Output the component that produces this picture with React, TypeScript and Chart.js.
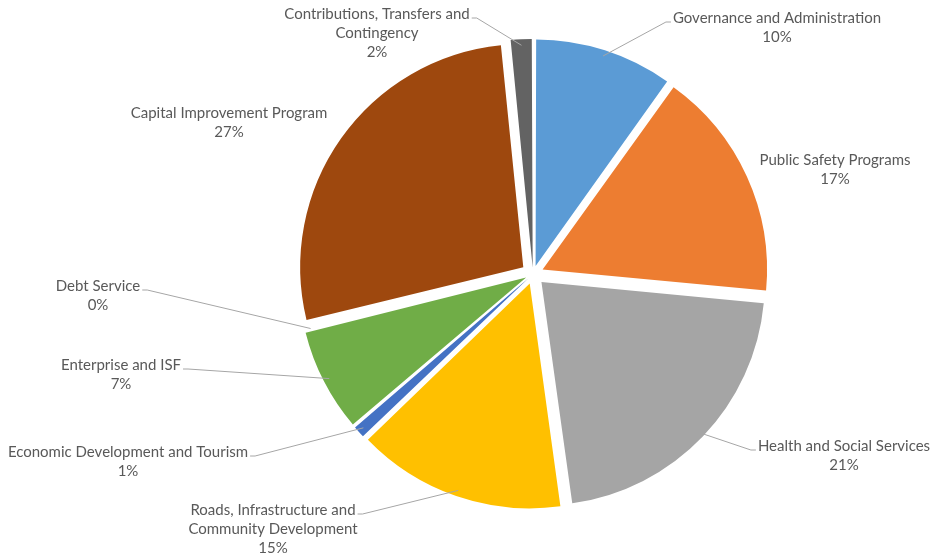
import React, { useEffect, useRef } from "react";
import { Chart, registerables } from "chart.js";

Chart.register(...registerables);

// ---------- data ----------
const categories = [
  "Governance and Administration",
  "Public Safety Programs",
  "Health and Social Services",
  "Roads, Infrastructure and Community Development",
  "Economic Development and Tourism",
  "Enterprise and ISF",
  "Debt Service",
  "Capital Improvement Program",
  "Contributions, Transfers and Contingency",
];
const shares = [9.9, 16.6, 21.3, 15.0, 0.95, 7.4, 0.05, 27.2, 1.6];
const labelLines = [
  ["Governance and Administration"],
  ["Public Safety Programs"],
  ["Health and Social Services"],
  ["Roads, Infrastructure and", "Community Development"],
  ["Economic Development and Tourism"],
  ["Enterprise and ISF"],
  ["Debt Service"],
  ["Capital Improvement Program"],
  ["Contributions, Transfers and", "Contingency"],
];

// ---------- style ----------
const sliceColors = [
  "#5B9BD5",
  "#ED7D31",
  "#A5A5A5",
  "#FFC000",
  "#4472C4",
  "#70AD47",
  "#264478",
  "#9E480E",
  "#636363",
];
// label box placement: centre x, centre y of first line, leader line or not
const labelPlacement = [
  { x: 777, y: 18, leader: true },
  { x: 835, y: 160, leader: false },
  { x: 844, y: 446, leader: true },
  { x: 273, y: 510, leader: true },
  { x: 128, y: 452, leader: true },
  { x: 121, y: 365, leader: true },
  { x: 98, y: 286, leader: true },
  { x: 229, y: 113, leader: false },
  { x: 377, y: 14, leader: true },
];
const EXPLODE = 12;
const RADIUS = 223;
const FONT = "15px Lato";
const LINE_H = 19;
const TEXT_COLOR = "#595959";
const LEADER_COLOR = "#A6A6A6";

const total = shares.reduce((a, b) => a + b, 0);

const labelPlugin = {
  id: "excelLabels",
  afterDatasetsDraw(chart: any) {
    const ctx = chart.ctx as CanvasRenderingContext2D;
    const meta = chart.getDatasetMeta(0);
    ctx.save();
    ctx.font = FONT;
    meta.data.forEach((arc: any, i: number) => {
      const p = arc.getProps(["x", "y", "startAngle", "endAngle", "outerRadius"], true);
      const mid = (p.startAngle + p.endAngle) / 2;
      const lines = [...labelLines[i], Math.round((shares[i] / total) * 100) + "%"];
      const pl = labelPlacement[i];
      if (pl.leader) {
        const r = p.outerRadius + EXPLODE - 6;
        const ex = p.x + Math.cos(mid) * r;
        const ey = p.y + Math.sin(mid) * r;
        const w = ctx.measureText(lines[0]).width;
        const right = pl.x > p.x;
        const sx = right ? pl.x - w / 2 - 2 : pl.x + w / 2 + 2;
        const sy = pl.y + 4;
        const kx = right ? sx - 5 : sx + 5;
        ctx.strokeStyle = LEADER_COLOR;
        ctx.lineWidth = 1;
        ctx.beginPath();
        ctx.moveTo(sx, sy);
        ctx.lineTo(kx, sy);
        ctx.lineTo(ex, ey);
        ctx.stroke();
      }
      ctx.fillStyle = TEXT_COLOR;
      ctx.textAlign = "center";
      ctx.textBaseline = "middle";
      lines.forEach((t, k) => ctx.fillText(t, pl.x, pl.y + k * LINE_H));
    });
    ctx.restore();
  },
};

export default function App() {
  const ref = useRef<HTMLCanvasElement | null>(null);
  useEffect(() => {
    if (!ref.current) return;
    const chart = new Chart(ref.current, {
      type: "pie",
      data: {
        labels: categories,
        datasets: [
          {
            data: shares,
            backgroundColor: sliceColors,
            borderWidth: 0,
            radius: RADIUS,
            offset: (c: any) => {
              const circ = (shares[c.dataIndex] / total) * Math.PI * 2;
              const fix = 1 - Math.sin(Math.min(Math.PI, circ));
              return (4 * EXPLODE) / (1 + fix);
            },
          } as any,
        ],
      },
      options: {
        responsive: false,
        animation: false,
        layout: { padding: { left: 135, right: 0, top: 0, bottom: 11 } },
        plugins: {
          legend: { display: false },
          tooltip: { enabled: false },
        },
      },
      plugins: [labelPlugin],
    });
    return () => chart.destroy();
  }, []);
  return (
    <div style={{ position: "fixed", left: 0, top: 0, width: 931, height: 559, background: "#fff" }}>
      <canvas ref={ref} width={931} height={559} />
    </div>
  );
}
